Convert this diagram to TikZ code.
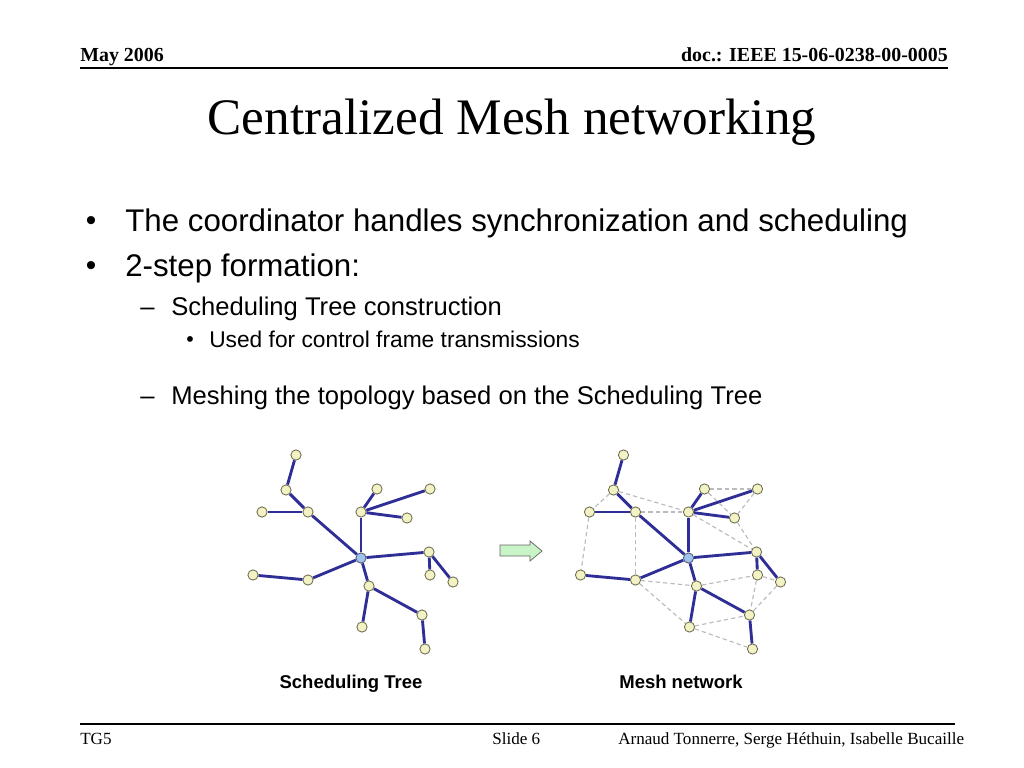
\documentclass[tikz,border=0pt]{standalone}
\usepackage{fontspec}
\setmainfont{Liberation Serif}
\newfontfamily\arialf{Liberation Sans}
\definecolor{treeblue}{HTML}{2E2E96}
\definecolor{nodefill}{HTML}{F2F2C4}
\definecolor{nodedraw}{HTML}{6E6E50}
\definecolor{centerfill}{HTML}{9CC4EC}
\definecolor{meshgray}{HTML}{BBBBBB}
\definecolor{arrowfill}{HTML}{C8F4C8}
\tikzset{
  vtx/.style={circle,draw=nodedraw,fill=nodefill,line width=0.6pt,minimum size=7.2pt,inner sep=0pt},
  ctr/.style={vtx,fill=centerfill,draw=nodedraw!80!blue},
  treeedge/.style={draw=treeblue,line width=2pt},
  meshedge/.style={draw=meshgray,line width=0.8pt,dash pattern=on 3pt off 2.2pt},
  hdr/.style={anchor=base west,inner sep=0pt,font=\fontsize{14}{16}\selectfont\bfseries},
  ftr/.style={anchor=base west,inner sep=0pt,font=\fontsize{12}{14}\selectfont},
  bul/.style={anchor=base west,inner sep=0pt},
  lvone/.style={bul,font=\arialf\fontsize{22}{26}\selectfont},
  lvtwo/.style={bul,font=\arialf\fontsize{18}{22}\selectfont},
  lvthree/.style={bul,font=\arialf\fontsize{16}{19}\selectfont},
  dotone/.style={anchor=center,inner sep=0pt,font=\arialf\fontsize{21}{23}\selectfont},
  dotthree/.style={anchor=center,inner sep=0pt,font=\arialf\fontsize{15}{17}\selectfont},
  caption/.style={anchor=base,inner sep=0pt,font=\arialf\fontsize{13}{15}\selectfont\bfseries}
}
\newcommand{\placegraph}{%
  \node[vtx] (A) at (296,455) {};
  \node[vtx] (B) at (286,490) {};
  \node[vtx] (C) at (262,512) {};
  \node[vtx] (D) at (308,512) {};
  \node[ctr] (E) at (361,558) {};
  \node[vtx] (F) at (361,512) {};
  \node[vtx] (G) at (377,489) {};
  \node[vtx] (H) at (430,489) {};
  \node[vtx] (I) at (407,518) {};
  \node[vtx] (J) at (429,552) {};
  \node[vtx] (K) at (430,575) {};
  \node[vtx] (L) at (453,582) {};
  \node[vtx] (M) at (308,580) {};
  \node[vtx] (N) at (253,575) {};
  \node[vtx] (O) at (369,586) {};
  \node[vtx] (P) at (362,627) {};
  \node[vtx] (Q) at (422,615) {};
  \node[vtx] (R) at (425,649) {};
  \foreach \a/\b in {A/B,B/D,C/D,D/E,E/F,F/G,F/H,F/I,E/J,J/K,J/L,E/M,M/N,E/O,O/P,O/Q,Q/R}
    \draw[treeedge] (\a) -- (\b);
}
\begin{document}
\begin{tikzpicture}[x=0.703125pt,y=-0.703125pt]
\useasboundingbox[fill=white] (0,0) rectangle (1024,768);
% header
\node[hdr] (may) at (80,62) {May 2006};
\node[hdr,anchor=base east] (doc) at (948,62) {doc.: IEEE 15-06-0238-00-0005};
\coordinate (hl) at (80,68); \coordinate (hr) at (948,68);
\draw[line width=1.4pt] (hl) -- (hr);
% title
\node[anchor=base,inner sep=0pt,font=\fontsize{36}{40}\selectfont] (title) at (512,135) {Centralized Mesh networking};
% bullets
\node[dotone] (b1dot) at (91,224) {•};
\node[lvone] (b1) at (125,232) {The coordinator handles synchronization and scheduling};
\node[dotone] (b2dot) at (91,269) {•};
\node[lvone] (b2) at (125,277) {2-step formation:};
\node[lvtwo] (s1dot) at (140,315) {–};
\node[lvtwo] (s1) at (171,315) {Scheduling Tree construction};
\node[dotthree] (ss1dot) at (190,342) {•};
\node[lvthree] (ss1) at (209,348) {Used for control frame transmissions};
\node[lvtwo] (s2dot) at (140,404) {–};
\node[lvtwo] (s2) at (171,404) {Meshing the topology based on the Scheduling Tree};
% left tree
\begin{scope}[name prefix=t-]
\placegraph
\end{scope}
% right mesh
\begin{scope}[shift={(327.5,0)},name prefix=m-]
\placegraph
\foreach \a/\b in {B/C,B/F,D/F,C/N,D/M,G/H,G/I,H/I,F/J,I/J,M/O,M/P,O/K,K/L,K/Q,L/Q,P/Q,P/R}
  \draw[meshedge] (\a) -- (\b);
\end{scope}
% arrow
\draw[draw=black!60,fill=arrowfill,line width=0.5pt,line join=miter]
  (500,545) -- (530,545) -- (530,541) -- (542,551) -- (530,561) -- (530,556) -- (500,556) -- cycle;
% captions
\node[caption] (cap1) at (351,688) {Scheduling Tree};
\node[caption] (cap2) at (681,688) {Mesh network};
% footer
\coordinate (fl) at (80,724); \coordinate (fr) at (955,724);
\draw[line width=1.2pt] (fl) -- (fr);
\node[ftr] (tg) at (80,744) {TG5};
\node[ftr] (slide) at (492,744) {Slide 6};
\node[ftr] (auth) at (618,744) {Arnaud Tonnerre, Serge Héthuin, Isabelle Bucaille};
\end{tikzpicture}
\end{document}
